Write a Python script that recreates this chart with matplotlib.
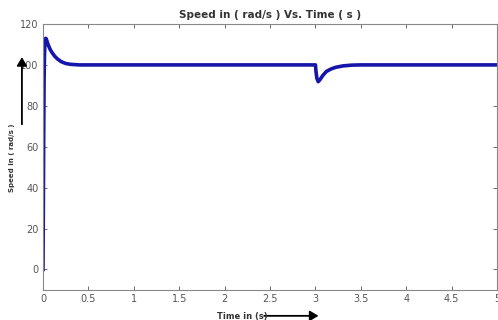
import matplotlib.pyplot as plt
from matplotlib.patches import FancyArrowPatch

# speed response
time_s = [0, 0.004, 0.008, 0.012, 0.016, 0.02, 0.025, 0.03, 0.035, 0.045, 0.06,
          0.08, 0.1, 0.13, 0.16, 0.2, 0.25, 0.3, 0.4, 0.6,
          3.0, 3.005, 3.015, 3.03, 3.05, 3.08, 3.12, 3.17, 3.22, 3.3, 3.4, 3.5, 3.7, 5.0]
speed = [0, 30, 65, 92, 104, 109, 112, 113, 112.8, 111.5, 109.5,
         107.5, 106, 104.2, 102.9, 101.6, 100.7, 100.3, 100, 100,
         100, 97, 93.5, 91.8, 92.8, 94.8, 96.8, 98, 98.8, 99.5, 99.9, 100, 100, 100]

xticks = [0, 0.5, 1, 1.5, 2, 2.5, 3, 3.5, 4, 4.5, 5]
xticklabels = ["0", "0.5", "1", "1.5", "2", "2.5", "3", "3.5", "4", "4.5", "5"]
yticks = [0, 20, 40, 60, 80, 100, 120]

fig = plt.figure(figsize=(4.98, 3.2), dpi=100)
ax = fig.add_axes([0.0863, 0.094, 0.912, 0.831])
ax.plot(time_s, speed, color="#1515aa", linewidth=2.6, solid_joinstyle="round")
ax.set_xlim(0, 5)
ax.set_ylim(-10, 120)
ax.set_xticks(xticks)
ax.set_xticklabels(xticklabels)
ax.set_yticks(yticks)
ax.tick_params(direction="in", top=True, right=True, labelsize=7,
               colors="#555555", length=3, width=0.6, pad=3)
for s in ax.spines.values():
    s.set_color("#888888")
    s.set_linewidth(0.8)

ax.set_title("Speed in ( rad/s ) Vs. Time ( s )", fontsize=7.5,
             fontweight="bold", color="#333333", pad=4)
fig.text(0.024, 0.506, "Speed in ( rad/s )", rotation=90, fontsize=5,
         fontweight="bold", color="#333333", ha="center", va="center")
fig.text(0.436, 0.012, "Time in (s)", fontsize=6, fontweight="bold",
         color="#333333", ha="left", va="center")

# hand-drawn arrows
fig.patches.append(FancyArrowPatch(
    (0.044, 0.603), (0.044, 0.83), transform=fig.transFigure,
    arrowstyle="-|>,head_length=5,head_width=3", color="black", lw=1.3))
fig.patches.append(FancyArrowPatch(
    (0.525, 0.013), (0.645, 0.013), transform=fig.transFigure,
    arrowstyle="-|>,head_length=5,head_width=3", color="black", lw=1.3))

fig.savefig("out.png", dpi=100)
